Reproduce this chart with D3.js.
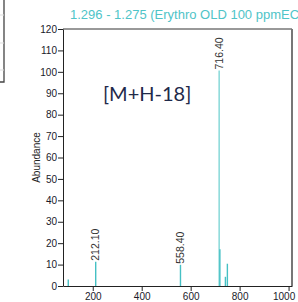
<!DOCTYPE html>
<html>
  <head>
    <meta charset="utf-8">
    <title></title>
    <script type="text/javascript" src="https://d3js.org/d3.v7.min.js"></script>
    <style media="screen">
      body { margin: 0; background: #fff; overflow: hidden; }
      .axis text { font-family: "Liberation Sans", Arial, sans-serif; font-size: 10px; fill: #1a1a2a; }
      .axis path, .axis line { stroke: #222; }
    </style>
  </head>
  <body>
    <div class="vis"></div>
    <script type="text/javascript">
      var mz = [100, 212.1, 558.4, 716.4, 719.4, 742, 750];
      var abundance = [3, 11.3, 9.9, 100.6, 17.2, 4.3, 10.4];
      var peakLabels = ["", "212.10", "558.40", "716.40", "", "", ""];
      var xTicks = [200, 400, 600, 800, 1000];
      var yTicks = [0, 10, 20, 30, 40, 50, 60, 70, 80, 90, 100, 110, 120];
      var title = "1.296 - 1.275 (Erythro OLD 100 ppmEC)";
      var note = "[M+H-18]";

      var w = 298;
      var h = 302;
      var padL = 63, padR = 292, padT = 29, padB = 286;

      var svg = d3.select('.vis')
        .append('svg')
        .attr('width', w)
        .attr('height', h);

      // bit of a neighbouring panel cut off at the top left
      svg.append('path')
        .attr('d', 'M4,0 V82 H0')
        .attr('fill', 'none')
        .attr('stroke', '#444')
        .attr('stroke-width', 1.3);
      [15, 43, 70].forEach(function(y) {
        svg.append('line')
          .attr('x1', 0).attr('x2', 4)
          .attr('y1', y).attr('y2', y)
          .attr('stroke', '#ddd');
      });

      var xscale = d3.scaleLinear()
        .domain([78.5, 1014])
        .range([padL, padR]);
      var yscale = d3.scaleLinear()
        .domain([0, 120])
        .range([padB, padT]);

      // frame top + right
      svg.append('line')
        .attr('x1', padL).attr('x2', padR)
        .attr('y1', padT).attr('y2', padT)
        .attr('stroke', '#333');
      svg.append('line')
        .attr('x1', padR).attr('x2', padR)
        .attr('y1', padT).attr('y2', padB)
        .attr('stroke', '#777')
        .attr('stroke-width', 2);

      svg.append('text')
        .attr('x', 70)
        .attr('y', 19)
        .attr('fill', '#4fc4c8')
        .style('font-family', '"Liberation Sans", Arial, sans-serif')
        .style('font-size', '13px')
        .text(title);

      var peaks = mz.map(function(m, i) {
        return { mz: m, ab: abundance[i], label: peakLabels[i] };
      });

      svg.selectAll('line.peak')
        .data(peaks)
        .enter()
        .append('line')
        .attr('class', 'peak')
        .attr('x1', function(d) { return xscale(d.mz); })
        .attr('x2', function(d) { return xscale(d.mz); })
        .attr('y1', yscale(0))
        .attr('y2', function(d) { return yscale(d.ab); })
        .attr('stroke', function(d, i) { return i == 3 ? '#7fd6d6' : '#45c0c4'; })
        .attr('stroke-width', 1.4);

      svg.selectAll('text.plabel')
        .data(peaks.filter(function(d) { return d.label; }))
        .enter()
        .append('text')
        .attr('class', 'plabel')
        .attr('transform', function(d) {
          return 'translate(' + xscale(d.mz) + ',' + (yscale(d.ab) - 1) + ') rotate(-90)';
        })
        .attr('dy', '0.35em')
        .attr('fill', '#333')
        .style('font-family', '"Liberation Sans", Arial, sans-serif')
        .style('font-size', '10.5px')
        .text(function(d) { return d.label; });

      var xAxis = d3.axisBottom(xscale)
        .tickValues(xTicks)
        .tickFormat(d3.format('d'))
        .tickSize(5)
        .tickSizeOuter(0);
      var yAxis = d3.axisLeft(yscale)
        .tickValues(yTicks)
        .tickSize(5)
        .tickSizeOuter(0);

      svg.append('g')
        .attr('class', 'axis')
        .attr('transform', 'translate(0,' + padB + ')')
        .call(xAxis)
        .selectAll('text')
        .attr('dy', '0.6em')
        .attr('dx', function(d) { return d == 1000 ? -5 : 0; });
      svg.append('g')
        .attr('class', 'axis')
        .attr('transform', 'translate(' + padL + ',0)')
        .call(yAxis)
        .selectAll('text').attr('x', -6);

      svg.append('text')
        .attr('transform', 'translate(40,' + ((padT + padB) / 2) + ') rotate(-90)')
        .attr('text-anchor', 'middle')
        .attr('fill', '#222')
        .style('font-family', '"Liberation Sans", Arial, sans-serif')
        .style('font-size', '10px')
        .text('Abundance');

      svg.append('text')
        .attr('x', 103)
        .attr('y', 101)
        .attr('fill', '#1f2a4a')
        .style('font-family', 'Lato, "Open Sans", sans-serif')
        .style('font-size', '20px')
        .text(note);
    </script>
  </body>
</html>
